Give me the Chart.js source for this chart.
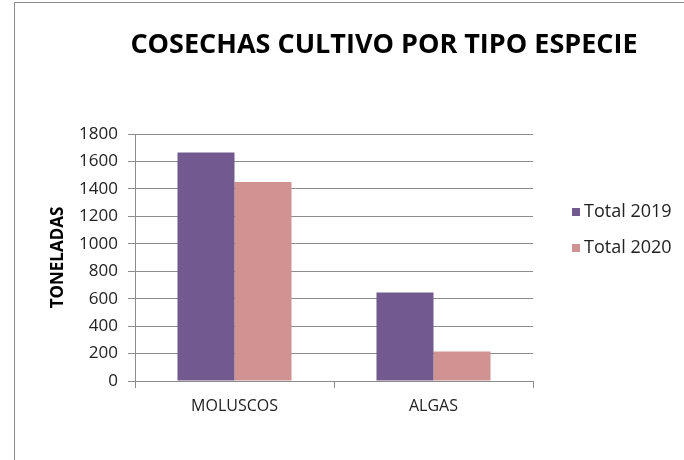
<!DOCTYPE html>
<html>
<head>
<meta charset="utf-8">
<script src="https://cdn.jsdelivr.net/npm/chart.js@4"></script>
<style>
  html, body { margin: 0; padding: 0; background: #fff; }
  #wrap { position: relative; width: 684px; height: 460px; }
</style>
</head>
<body>
<div id="wrap"><canvas id="chart"></canvas></div>
<script>
// datos
const categorias = ['MOLUSCOS', 'ALGAS'];
const total2019 = [1665, 645];
const total2020 = [1450, 215];
const series = ['Total 2019', 'Total 2020'];
const colores = ['#735a8e', '#d19292'];
const yMax = 1800;
const yPaso = 200;
const titulo = 'COSECHAS CULTIVO POR TIPO ESPECIE';
const tituloY = 'TONELADAS';

const fuente = "'Open Sans', 'DejaVu Sans', sans-serif";

// marco, titulo y leyenda
const extras = {
  id: 'extras',
  beforeDraw(chart) {
    const ctx = chart.ctx;
    ctx.save();
    ctx.fillStyle = '#fff';
    ctx.fillRect(0, 0, chart.width, chart.height);
    ctx.strokeStyle = '#8c8c8c';
    ctx.lineWidth = 1;
    ctx.beginPath();
    ctx.moveTo(14.5, chart.height);
    ctx.lineTo(14.5, 2.5);
    ctx.lineTo(chart.width, 2.5);
    ctx.stroke();
    ctx.restore();
  },
  afterDraw(chart) {
    const ctx = chart.ctx;
    ctx.save();
    ctx.fillStyle = '#000';
    ctx.font = "bold 27px " + fuente;
    ctx.textAlign = 'center';
    ctx.textBaseline = 'middle';
    ctx.fillText(titulo, 384, 45);

    ctx.font = "18px " + fuente;
    ctx.textAlign = 'left';
    chart.data.datasets.forEach((ds, i) => {
      const y = 212 + i * 36;
      ctx.fillStyle = ds.backgroundColor;
      ctx.fillRect(572, y - 4, 8, 8);
      ctx.fillStyle = '#222';
      ctx.fillText(ds.label, 584, y);
    });
    ctx.restore();
  }
};

new Chart(document.getElementById('chart'), {
  type: 'bar',
  data: {
    labels: categorias,
    datasets: [
      { label: series[0], data: total2019, backgroundColor: colores[0] },
      { label: series[1], data: total2020, backgroundColor: colores[1] }
    ]
  },
  options: {
    responsive: true,
    maintainAspectRatio: false,
    animation: false,
    categoryPercentage: 0.573,
    barPercentage: 1,
    layout: { padding: { top: 134, left: 40, right: 151, bottom: 0 } },
    plugins: {
      legend: { display: false },
      title: { display: false },
      tooltip: { enabled: false }
    },
    scales: {
      x: {
        grid: { drawOnChartArea: false, drawTicks: true, tickLength: 7, color: '#8c8c8c' },
        border: { color: '#8c8c8c' },
        ticks: { color: '#222', font: { family: fuente, size: 16 }, padding: 9 },
        afterFit(scale) { scale.height = 79; }
      },
      y: {
        min: 0,
        max: yMax,
        ticks: {
          stepSize: yPaso,
          color: '#222',
          font: { family: fuente, size: 17 },
          padding: 10,
          callback: (v) => String(v)
        },
        grid: { color: '#8c8c8c', tickLength: 7 },
        border: { color: '#8c8c8c' },
        title: {
          display: true,
          text: tituloY,
          color: '#000',
          font: { family: fuente, size: 17, weight: 'bold' },
          padding: { top: 8, bottom: 0 }
        },
        afterFit(scale) { scale.width = 95; }
      }
    }
  },
  plugins: [extras]
});
</script>
</body>
</html>
